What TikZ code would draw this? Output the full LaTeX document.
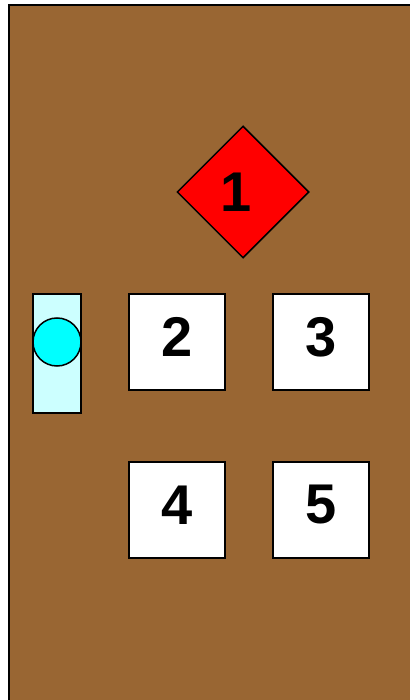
\documentclass[tikz,border=0pt]{standalone}
\usepackage{fontspec}
\setmainfont{Liberation Sans}
\usetikzlibrary{shapes.geometric}
\definecolor{woodbrown}{HTML}{996633}
\definecolor{lightcyan}{HTML}{CCFFFF}
\definecolor{cyanfill}{HTML}{00FFFF}
\definecolor{redfill}{HTML}{FF0000}
\tikzset{
  boxnode/.style={draw=black, line width=1.5pt, fill=white, rectangle, minimum width=96pt, minimum height=96pt, inner sep=0pt},
  numtext/.style={font=\fontsize{56}{60}\selectfont\bfseries, text=black, inner sep=0pt},
}
\begin{document}
\begin{tikzpicture}[x=1pt,y=-1pt]
\useasboundingbox (0,0) rectangle (409,700);
\fill[white] (0,0) rectangle (409,700);
\draw[line width=2pt, fill=woodbrown] (9,5) rectangle (430,720);
% door panel with knob
\node[draw=black, line width=1.5pt, fill=lightcyan, rectangle, minimum width=48pt, minimum height=119pt, inner sep=0pt] (panel) at (57,353.5) {};
\node[draw=black, line width=1.5pt, fill=cyanfill, circle, minimum size=48pt, inner sep=0pt] (knob) at (57,342) {};
% diamond 1
\node[draw=black, line width=1.5pt, fill=redfill, diamond, aspect=1, minimum width=132pt, minimum height=132pt, inner sep=0pt] (d1) at (243,192) {};
\node[numtext] (t1) at (236,192) {1};
% boxes
\node[boxnode] (b2) at (177,342) {};
\node[boxnode] (b3) at (321,342) {};
\node[boxnode] (b4) at (177,510) {};
\node[boxnode] (b5) at (321,510) {};
\node[numtext] (t2) at (177,337) {2};
\node[numtext] (t3) at (321,337) {3};
\node[numtext] (t4) at (177,505) {4};
\node[numtext] (t5) at (321,505) {5};
\end{tikzpicture}
\end{document}
